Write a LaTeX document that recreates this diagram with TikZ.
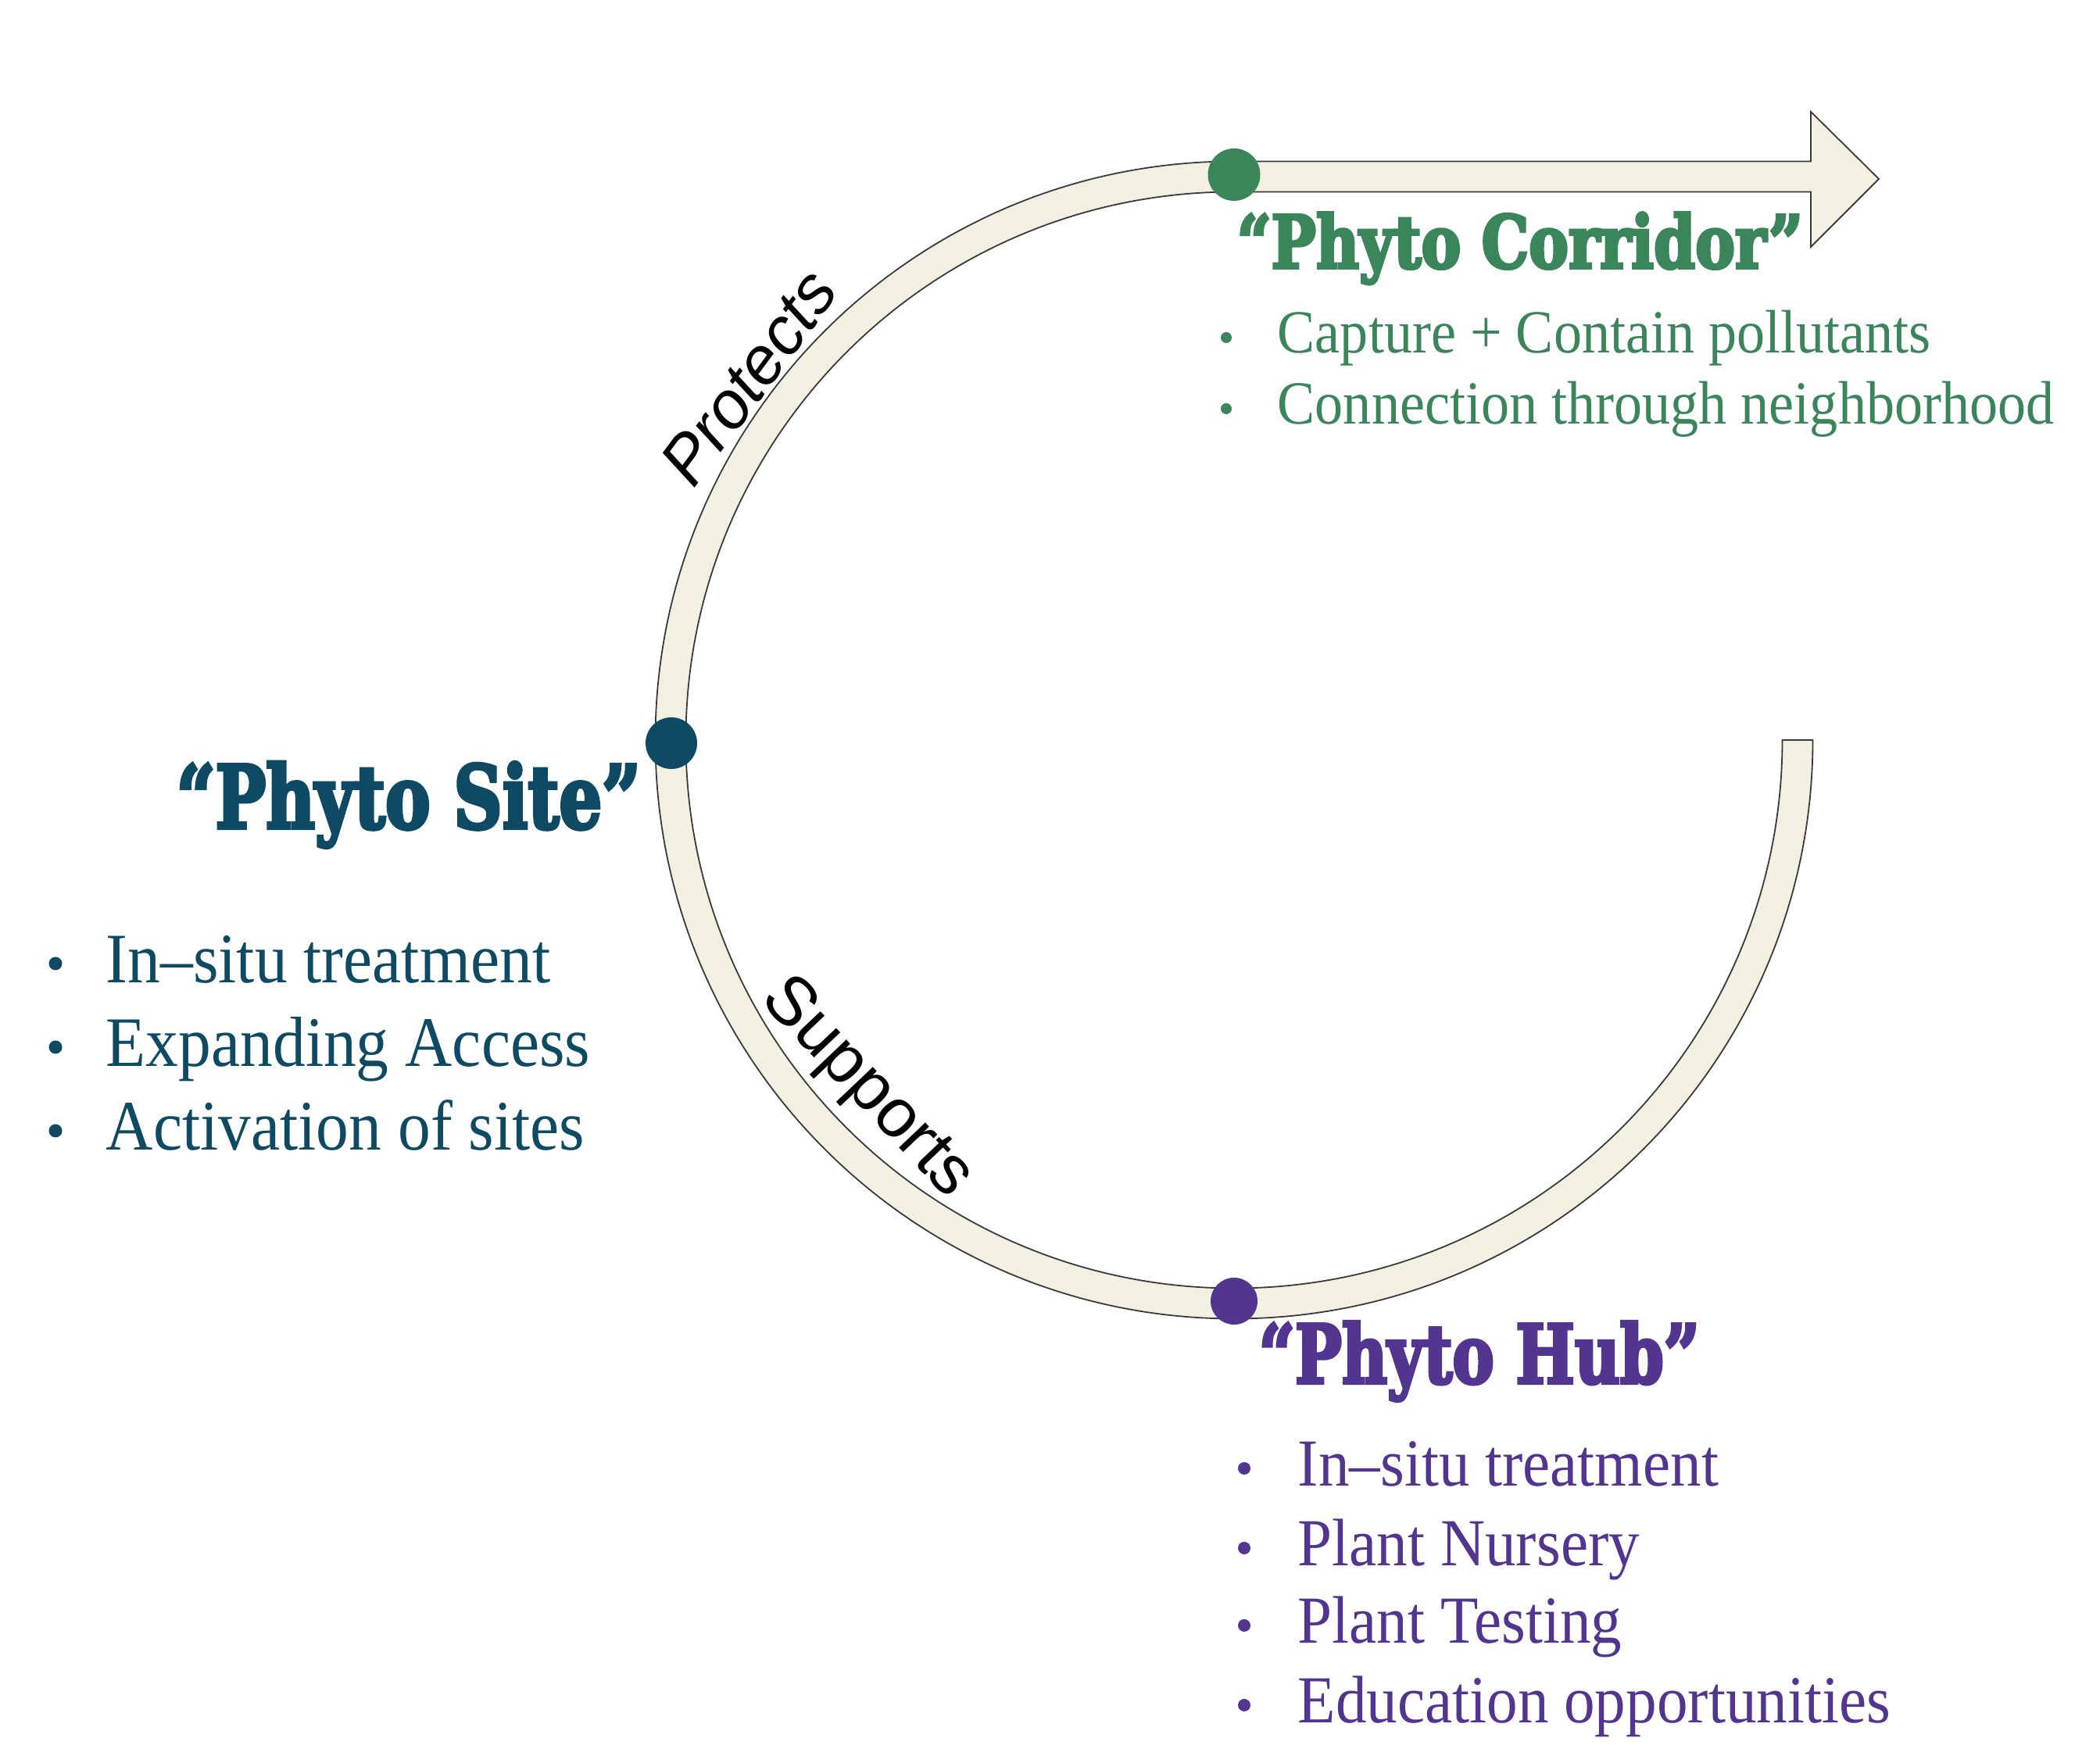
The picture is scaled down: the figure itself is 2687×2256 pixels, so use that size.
\documentclass[tikz,border=0pt]{standalone}
\usepackage{fontspec}
\usepackage{graphicx}
\newfontfamily\headf{DejaVu Serif Condensed}[BoldFeatures={FakeBold=4}]
\newfontfamily\bodyf{Liberation Serif}[FakeStretch=0.92]
\newfontfamily\labf{Liberation Sans}
\definecolor{cgreen}{HTML}{3A8559}
\definecolor{cblue}{HTML}{0E4A63}
\definecolor{cpurple}{HTML}{52358F}
\definecolor{cream}{HTML}{F2F0E1}
\definecolor{edgecol}{HTML}{3A3A3A}
\tikzset{
  band/.style={fill=cream, draw=edgecol, line width=0.45pt, line join=miter},
  dot/.style={circle, inner sep=0pt, draw=none},
  bul/.style={circle, inner sep=0pt, draw=none},
  headtxt/.style={anchor=base west, inner sep=0pt},
  bodytxt/.style={anchor=base west, inner sep=0pt},
  labtxt/.style={anchor=base, inner sep=0pt}
}
\begin{document}
\begin{tikzpicture}[x=0.25pt,y=0.25pt]
\useasboundingbox (0,0) rectangle (2687,2256);
\coordinate (C) at (1579,1309);
% band with arrow
\draw[band] (2319.5,1309) arc[start angle=0,end angle=-270,radius=740.5]
  -- (2317,2049.5) -- (2317,2113) -- (2404,2027) -- (2317,1940) -- (2317,2010.5)
  -- (1579,2010.5) arc[start angle=90,end angle=360,radius=701.5] -- cycle;
% dots
\node[dot, fill=cgreen, minimum size=16.75pt] (dcor) at (1579,2032.5) {};
\node[dot, fill=cblue, minimum size=16.5pt] (dsite) at (859,1305) {};
\node[dot, fill=cpurple, minimum size=15pt] (dhub) at (1579,591) {};
% arc labels
\node[labtxt, rotate=53.5, font=\labf\itshape\fontsize{21.5}{25}\selectfont] (lprot) at ([shift={(143.2:746)}]C) {Protects};
\node[labtxt, rotate=-46.5, font=\labf\fontsize{22}{26}\selectfont] (lsupp) at ([shift={(223.5:670)}]C) {Supports};
% headings
\node[headtxt, text=cgreen] (hcor) at (1582,1913) {\resizebox{181pt}{17.75pt}{\headf\bfseries “Phyto Corridor”}};
\node[headtxt, text=cblue] (hsite) at (225,1196) {\resizebox{148.5pt}{21.25pt}{\headf\bfseries “Phyto Site”}};
\node[headtxt, text=cpurple] (hhub) at (1610,486) {\resizebox{141pt}{19.75pt}{\headf\bfseries “Phyto Hub”}};
% green list
\begin{scope}[every node/.append style={text=cgreen, font=\bodyf\fontsize{19.6}{24}\selectfont}]
\node[bul, fill=cgreen, minimum size=3.5pt] (gb1) at (1569,1824) {};
\node[bul, fill=cgreen, minimum size=3.5pt] (gb2) at (1569,1733) {};
\node[bodytxt] (gt1) at (1634,1804) {Capture + Contain pollutants};
\node[bodytxt] (gt2) at (1634,1713) {Connection through neighborhood};
\end{scope}
% blue list
\begin{scope}[every node/.append style={text=cblue, font=\bodyf\fontsize{22.7}{27}\selectfont}]
\node[bul, fill=cblue, minimum size=4.25pt] (bb1) at (71,1023) {};
\node[bul, fill=cblue, minimum size=4.25pt] (bb2) at (71,916) {};
\node[bul, fill=cblue, minimum size=4.25pt] (bb3) at (71,809) {};
\node[bodytxt] (bt1) at (135,998) {In–situ treatment};
\node[bodytxt] (bt2) at (135,891) {Expanding Access};
\node[bodytxt] (bt3) at (135,784) {Activation of sites};
\end{scope}
% purple list
\begin{scope}[every node/.append style={text=cpurple, font=\bodyf\fontsize{21.5}{26}\selectfont}]
\node[bul, fill=cpurple, minimum size=4pt] (pb1) at (1592,377) {};
\node[bul, fill=cpurple, minimum size=4pt] (pb2) at (1592,275) {};
\node[bul, fill=cpurple, minimum size=4pt] (pb3) at (1592,176) {};
\node[bul, fill=cpurple, minimum size=4pt] (pb4) at (1592,74) {};
\node[bodytxt] (pt1) at (1660,354) {In–situ treatment};
\node[bodytxt] (pt2) at (1660,252) {Plant Nursery};
\node[bodytxt] (pt3) at (1660,153) {Plant Testing};
\node[bodytxt] (pt4) at (1660,51) {Education opportunities};
\end{scope}
\end{tikzpicture}
\end{document}
